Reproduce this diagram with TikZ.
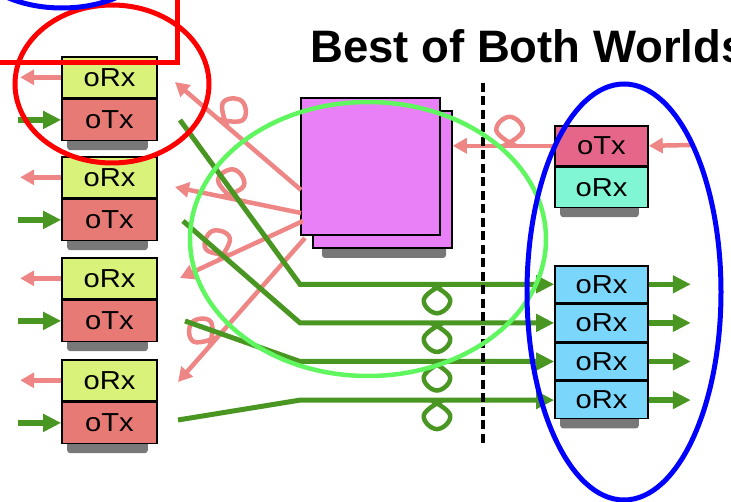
\documentclass[tikz,border=0pt]{standalone}
\usepackage{fontspec}
\setmainfont{Liberation Sans}
\newfontfamily\boxfont[FakeStretch=1.12]{Liberation Sans}
\usetikzlibrary{arrows.meta,calc}
\pgfdeclarelayer{bg}
\pgfsetlayers{bg,main}
\definecolor{lrxc}{RGB}{216,242,122}
\definecolor{ltxc}{RGB}{232,122,118}
\definecolor{rtxc}{RGB}{230,102,138}
\definecolor{rrxc}{RGB}{128,246,212}
\definecolor{cyanc}{RGB}{122,214,250}
\definecolor{magc}{RGB}{234,128,248}
\definecolor{pinkl}{RGB}{238,134,134}
\definecolor{greenl}{RGB}{74,150,34}
\definecolor{shadc}{RGB}{120,120,120}
\definecolor{brightg}{RGB}{96,246,96}
% loop drawn around point #1 on the line #2 -> #3, with style #4
\newcommand{\strandloop}[4]{%
  \coordinate (#1q0) at ($(#1)!6pt!(#2)$);
  \coordinate (#1q1) at ($(#1)!20pt!-49:(#3)$);
  \coordinate (#1q2) at ($(#1)!29pt!-90:(#3)$);
  \coordinate (#1q3) at ($(#1)!20pt!-131:(#3)$);
  \coordinate (#1q4) at ($(#1)!6pt!(#3)$);
  \draw[#4] plot[smooth, tension=0.8] coordinates {(#1q0) (#1q1) (#1q2) (#1q3) (#1q4)};
}
\begin{document}
\begin{tikzpicture}[x=1pt,y=-1pt,
  cell/.style={draw=black, line width=1.6pt, minimum width=95pt, minimum height=41pt,
    inner sep=0pt, font=\boxfont\fontsize{26}{30}\selectfont},
  lrx/.style={cell, fill=lrxc},
  ltx/.style={cell, fill=ltxc},
  rcell/.style={cell, minimum width=93pt, minimum height=40pt},
  bcell/.style={cell, minimum width=93pt, minimum height=37pt, fill=cyanc},
  magbox/.style={draw=black, line width=1.6pt, fill=magc, minimum width=139pt, minimum height=137pt, inner sep=0pt},
  pinkarr/.style={draw=pinkl, line width=4.5pt, -{Triangle[length=14pt,width=15pt]}},
  pinkloop/.style={draw=pinkl, line width=4.5pt},
  greenarr/.style={draw=greenl, line width=5.5pt, -{Triangle[length=18pt,width=17pt]}},
  greenline/.style={draw=greenl, line width=5pt, line join=miter},
  greenloop/.style={draw=greenl, line width=4.5pt},
  shadowbar/.style={fill=shadc, rounded corners=3pt},
  annot/.style={line width=5pt}
]
\path[use as bounding box] (0,0) rectangle (731,502);
\clip (0,0) rectangle (731,502);

% title
\node[anchor=base west, inner sep=0pt, font=\bfseries\fontsize{45.5}{52}\selectfont] (title) at (310,63) {Best of Both Worlds};

% magenta block
\fill[shadowbar] (322,240) rectangle (446,258);
\node[magbox] (mb) at (382.5,179.5) {};
\node[magbox] (mf) at (370.5,166.5) {};

% pink lines from the block to the left stacks, each with a loop
\foreach \n/\ax/\ay/\bx/\by/\s in {1/301/190/175/82/0.62, 2/301/213/175/187/0.58, 3/303/221/180/278/0.64, 4/305/238/178/382/0.72}{
  \coordinate (p\n a) at (\ax,\ay);
  \coordinate (p\n b) at (\bx,\by);
  \draw[pinkarr] (p\n a) -- (p\n b);
  \coordinate (pf\n) at ($(p\n a)!\s!(p\n b)$);
  \strandloop{pf\n}{p\n a}{p\n b}{pinkloop}
}

% left stacks
\foreach \i/\t in {1/56,2/156,3/257,4/359}{
  \node[lrx, anchor=north] (r\i) at (109.5,\t) {oRx};
  \node[ltx, anchor=north] (t\i) at (r\i.south) {oTx};
  \begin{pgfonlayer}{bg}
    \fill[shadowbar] ([xshift=6pt,yshift=4pt]t\i.south west) rectangle ([xshift=-10pt,yshift=-9pt]t\i.south east);
  \end{pgfonlayer}
  \coordinate (rl\i) at ($(r\i.west)+(-41,0)$);
  \coordinate (gl\i) at ($(t\i.west)+(-43,0)$);
  \draw[pinkarr] (r\i.west) -- (rl\i);
  \draw[greenarr] (gl\i) -- (t\i.west);
}

% right top stack
\node[rcell, fill=rtxc, anchor=north] (ot) at (601.5,125) {oTx};
\node[rcell, fill=rrxc, anchor=north] (or) at (ot.south) {oRx};
\begin{pgfonlayer}{bg}
  \fill[shadowbar] ([xshift=6pt,yshift=4pt]or.south west) rectangle ([xshift=-10pt,yshift=-9pt]or.south east);
\end{pgfonlayer}
\coordinate (p6) at (692,145);
\draw[pinkarr] (p6) -- (ot.east);
\coordinate (p5a) at (ot.west);
\coordinate (p5b) at (ot.west -| mb.east);
\draw[pinkarr] (p5a) -- (p5b);
\coordinate (pf5) at ($(p5a)!0.44!(p5b)$);
\strandloop{pf5}{p5a}{p5b}{pinkloop}

% right bottom stack
\node[bcell, anchor=north] (b1) at (601.5,265) {oRx};
\node[bcell, anchor=north] (b2) at (b1.south) {oRx};
\node[bcell, anchor=north] (b3) at (b2.south) {oRx};
\node[bcell, anchor=north] (b4) at (b3.south) {oRx};
\begin{pgfonlayer}{bg}
  \fill[shadowbar] ([xshift=6pt,yshift=4pt]b4.south west) rectangle ([xshift=-10pt,yshift=-9pt]b4.south east);
\end{pgfonlayer}

% green routes
\coordinate (xb) at (300,0);
\coordinate (xl) at (437,0);
\coordinate (s1) at (180,120);
\coordinate (s2) at (183,221);
\coordinate (s3) at (185,321);
\coordinate (s4) at (178,420);
\foreach \i in {1,2,3,4}{
  \coordinate (k\i) at (b\i.west -| xb);
  \coordinate (e\i) at (b\i.west);
  \coordinate (f\i) at (b\i.west -| xl);
  \draw[greenline, -{Triangle[length=18pt,width=17pt]}] (s\i) -- (k\i) -- (b\i.west);
  \strandloop{f\i}{k\i}{e\i}{greenloop}
  \coordinate (go\i) at ($(b\i.east)+(42,0)$);
  \draw[greenarr] (b\i.east) -- (go\i);
}

% dashed divider
\coordinate (dtop) at (483,83);
\coordinate (dbot) at (483,443);
\draw[black, line width=4.5pt, dash pattern=on 9pt off 4.5pt] (dtop) -- (dbot);

% annotations
\draw[red, annot] (-20,63) -- (177,63) -- (177,-20);
\draw[red, annot] (112,84) ellipse[x radius=97pt, y radius=79pt];
\draw[blue, annot] (62,-50) ellipse[x radius=95pt, y radius=58pt];
\draw[brightg, line width=4.5pt] (368,239) ellipse[x radius=178pt, y radius=137pt];
\draw[blue, annot] (624,292) ellipse[x radius=97pt, y radius=208pt];
\end{tikzpicture}
\end{document}
